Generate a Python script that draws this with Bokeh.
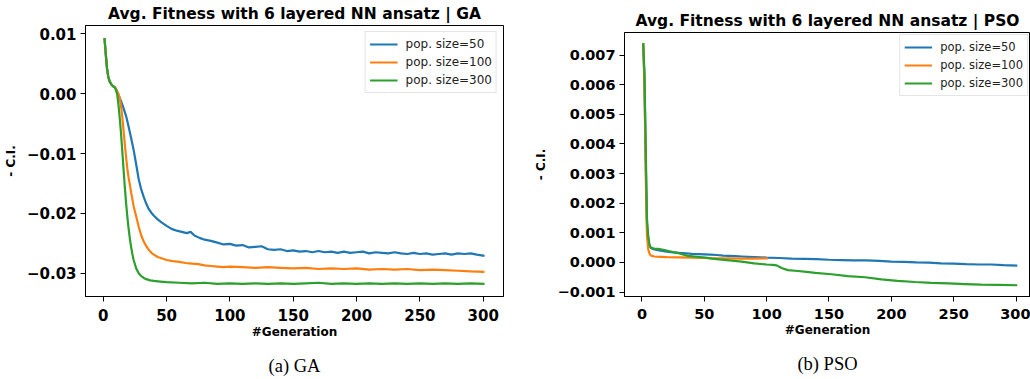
from bokeh.plotting import figure
from bokeh.layouts import row
from bokeh.models import (Range1d, FixedTicker, CustomJSTickFormatter, Legend, LegendItem, LinearAxis, Styles)
from bokeh.embed import file_html
from bokeh.resources import INLINE

# ---------------- data: GA panel ----------------
ga_blue_x = [1, 2, 3, 4, 5, 6, 7, 8, 9, 10, 12, 14, 16, 18, 20, 22, 24, 26, 28, 30, 32, 34, 36, 38, 40, 43, 46,
             50, 54, 58, 62, 66, 69, 72, 76, 80, 85, 90, 95, 100, 105, 110, 115, 120, 125, 130, 135, 140, 145,
             150, 155, 160, 165, 170, 175, 180, 185, 190, 195, 200, 205, 210, 215, 220, 225, 230, 235, 240, 245,
             250, 255, 260, 265, 270, 275, 280, 285, 290, 295, 301]
ga_blue_y = [0.0093, 0.0066, 0.0042, 0.0028, 0.0021, 0.0017, 0.0014, 0.0012, 0.0011, 0.0008, -0.0002, -0.0012,
             -0.0024, -0.0037, -0.0055, -0.0074, -0.0094, -0.0118, -0.0143, -0.0160, -0.0173, -0.0184, -0.0193,
             -0.0199, -0.0204, -0.0210, -0.0215, -0.0221, -0.0226, -0.0229, -0.0231, -0.0233, -0.0231, -0.0237,
             -0.0241, -0.0244, -0.0246, -0.0249, -0.0252, -0.0251, -0.0254, -0.0253, -0.0257, -0.0256, -0.0255,
             -0.0260, -0.0261, -0.0260, -0.0263, -0.0262, -0.0264, -0.0263, -0.0265, -0.0263, -0.0265, -0.0264,
             -0.0266, -0.0264, -0.0266, -0.0265, -0.0264, -0.0267, -0.0265, -0.0266, -0.0267, -0.0265, -0.0267,
             -0.0268, -0.0266, -0.0268, -0.0267, -0.0269, -0.0268, -0.0267, -0.0269, -0.0267, -0.0268, -0.0267,
             -0.0269, -0.0271]

ga_orange_x = [1, 2, 3, 4, 5, 6, 7, 8, 9, 10, 11, 12, 13, 14, 15, 16, 17, 18, 19, 20, 21, 22, 24, 26, 28, 30, 32,
               34, 36, 38, 40, 43, 46, 50, 55, 60, 65, 70, 75, 80, 85, 90, 95, 100, 110, 120, 130, 140, 150, 160,
               170, 180, 190, 200, 210, 220, 230, 240, 250, 260, 270, 280, 290, 301]
ga_orange_y = [0.0093, 0.0066, 0.0042, 0.0028, 0.0021, 0.0017, 0.0014, 0.0012, 0.0011, 0.0008, 0.0004, 0.0000,
               -0.0007, -0.0020, -0.0038, -0.0060, -0.0084, -0.0105, -0.0125, -0.0140, -0.0152, -0.0165, -0.0188,
               -0.0205, -0.0222, -0.0237, -0.0247, -0.0255, -0.0261, -0.0266, -0.0269, -0.0273, -0.0275, -0.0278,
               -0.0280, -0.0281, -0.0283, -0.0284, -0.0285, -0.0287, -0.0288, -0.0289, -0.0290, -0.0289, -0.0290,
               -0.0291, -0.0290, -0.0291, -0.0292, -0.0291, -0.0293, -0.0292, -0.0293, -0.0292, -0.0294, -0.0293,
               -0.0294, -0.0293, -0.0295, -0.0294, -0.0295, -0.0296, -0.0297, -0.0298]

ga_green_x = [1, 2, 3, 4, 5, 6, 7, 8, 9, 10, 11, 12, 13, 14, 15, 16, 17, 18, 19, 20, 21, 22, 23, 24, 26, 28, 30,
              32, 34, 37, 40, 45, 50, 60, 70, 80, 90, 100, 110, 120, 130, 140, 150, 160, 170, 180, 190, 200, 210,
              220, 230, 240, 250, 260, 270, 280, 290, 301]
ga_green_y = [0.0093, 0.0066, 0.0042, 0.0028, 0.0021, 0.0017, 0.0014, 0.0012, 0.0011, 0.0006, -0.0001, -0.0018,
              -0.0040, -0.0065, -0.0095, -0.0125, -0.0155, -0.0182, -0.0205, -0.0225, -0.0242, -0.0256, -0.0268,
              -0.0278, -0.0292, -0.0300, -0.0305, -0.0308, -0.0310, -0.0312, -0.0313, -0.0314, -0.0315, -0.0316,
              -0.0317, -0.0316, -0.0318, -0.0317, -0.0318, -0.0317, -0.0318, -0.0317, -0.0318, -0.0317, -0.0316,
              -0.0318, -0.0317, -0.0318, -0.0317, -0.0318, -0.0317, -0.0318, -0.0317, -0.0318, -0.0317, -0.0318,
              -0.0317, -0.0318]

# ---------------- data: PSO panel ----------------
pso_blue_x = [1, 2, 3, 4, 5, 6, 7, 8, 10, 15, 20, 25, 30, 35, 40, 45, 50, 55, 60, 65, 70, 75, 80, 85, 90, 95, 100,
              110, 120, 130, 140, 150, 160, 170, 180, 190, 200, 210, 220, 230, 240, 250, 260, 270, 280, 290, 301]
pso_blue_y = [0.0074, 0.0062, 0.0035, 0.0013, 0.0008, 0.00058, 0.00050, 0.00047, 0.00044, 0.00040, 0.00036,
              0.00034, 0.00032, 0.00031, 0.00029, 0.00028, 0.00027, 0.00026, 0.00025, 0.00023, 0.00022, 0.00021,
              0.00020, 0.00019, 0.00018, 0.00017, 0.00016, 0.00015, 0.00013, 0.00012, 0.00011, 0.00009, 0.00008,
              0.00007, 0.00007, 0.00005, 0.00003, 0.00002, 0.00000, -0.00001, -0.00003, -0.00004, -0.00006,
              -0.00007, -0.00007, -0.00009, -0.00011]

pso_orange_x = [1, 2, 3, 4, 5, 6, 7, 8, 10, 15, 20, 30, 40, 50, 60, 70, 80, 90, 101]
pso_orange_y = [0.0074, 0.0060, 0.0030, 0.0009, 0.00045, 0.00030, 0.00024, 0.00022, 0.00020, 0.00019, 0.00018,
                0.00017, 0.00016, 0.00015, 0.00014, 0.00014, 0.00013, 0.00013, 0.00014]

pso_green_x = [1, 2, 3, 4, 5, 6, 7, 8, 10, 13, 18, 24, 30, 37, 44, 51, 56, 62, 70, 80, 90, 100, 105, 108, 112,
               117, 125, 132, 139, 152, 165, 179, 192, 205, 219, 232, 246, 259, 272, 286, 301]
pso_green_y = [0.0074, 0.0064, 0.0040, 0.0015, 0.0009, 0.0006, 0.0005, 0.00048, 0.00047, 0.00046, 0.00042,
               0.00036, 0.00030, 0.00022, 0.00019, 0.00016, 0.00013, 0.00010, 0.00007, 0.00003, -0.00003,
               -0.00007, -0.00008, -0.00010, -0.00019, -0.00026, -0.00029, -0.00032, -0.00035, -0.00040,
               -0.00046, -0.00050, -0.00057, -0.00062, -0.00066, -0.00069, -0.00071, -0.00073, -0.00075,
               -0.00076, -0.00077]

series_labels = ["pop. size=50", "pop. size=100", "pop. size=300"]
series_colors = ["#1f77b4", "#ff7f0e", "#2ca02c"]

ga_title = "Avg. Fitness with 6 layered NN ansatz | GA"
pso_title = "Avg. Fitness with 6 layered NN ansatz | PSO"
x_label = "#Generation"
y_label = "- C.I."
ga_caption = "(a) GA"
pso_caption = "(b) PSO"
x_ticks = [0, 50, 100, 150, 200, 250, 300]
ga_y_ticks = [-0.03, -0.02, -0.01, 0.0, 0.01]
pso_y_ticks = [-0.001, 0.0, 0.001, 0.002, 0.003, 0.004, 0.005, 0.006, 0.007]


def text_axis(text, font, size, style, standoff):
    """An axis without line, ticks or tick labels: only its label is shown (used for title / caption)."""
    ax = LinearAxis(ticker=FixedTicker(ticks=[]), axis_line_color=None,
                    major_tick_in=0, major_tick_out=0, minor_tick_in=0, minor_tick_out=0,
                    minor_tick_line_color=None, major_tick_line_color=None,
                    major_label_text_font_size="0px")
    ax.axis_label = text
    ax.axis_label_text_font = font
    ax.axis_label_text_font_size = size
    ax.axis_label_text_font_style = style
    ax.axis_label_text_color = "black"
    ax.axis_label_standoff = standoff
    return ax


def make_panel(width, height, border_l, border_r, border_t, border_b, xr, yr, yticks, ydec, tick_fs,
               xs, ys, title, caption, leg_fs, leg_margin):
    p = figure(width=width, height=height, output_backend="svg", toolbar_location=None,
               x_range=Range1d(*xr), y_range=Range1d(*yr),
               min_border_left=border_l, min_border_right=border_r,
               min_border_top=border_t, min_border_bottom=border_b)
    p.background_fill_color = "white"
    p.border_fill_color = "white"
    p.outline_line_color = "black"
    p.outline_line_width = 1
    p.outline_line_alpha = 1
    p.grid.visible = False

    renderers = []
    for x, y, c in zip(xs, ys, series_colors):
        r = p.line(x, y, line_color=c, line_width=2.2)
        renderers.append(r)

    for ax in (p.xaxis[0], p.yaxis[0]):
        ax.axis_line_color = "black"
        ax.major_tick_in = 0
        ax.major_tick_out = 5
        ax.minor_tick_line_color = None
        ax.major_label_text_font = "DejaVu Sans"
        ax.major_label_text_font_style = "bold"
        ax.major_label_text_font_size = tick_fs
        ax.major_label_text_color = "black"
        ax.axis_label_text_font = "DejaVu Sans"
        ax.axis_label_text_font_style = "bold"
        ax.axis_label_text_font_size = "12px"
        ax.axis_label_text_color = "black"

    p.xaxis.ticker = FixedTicker(ticks=x_ticks)
    p.yaxis.ticker = FixedTicker(ticks=yticks)
    p.yaxis.formatter = CustomJSTickFormatter(
        code="return (tick < -1e-12 ? '\\u2212' : '') + Math.abs(tick).toFixed(%d);" % ydec)
    p.xaxis.axis_label = x_label
    p.yaxis.axis_label = y_label
    p.xaxis.major_label_standoff = 7
    p.xaxis.axis_label_standoff = 1
    p.yaxis.major_label_standoff = 4
    p.yaxis.axis_label_standoff = 6

    legend = Legend(items=[LegendItem(label=l, renderers=[r]) for l, r in zip(series_labels, renderers)],
                    location="top_right")
    legend.label_text_font = "DejaVu Sans"
    legend.label_text_font_size = leg_fs
    legend.label_text_color = "#222222"
    legend.glyph_width = 28
    legend.glyph_height = 16
    legend.label_height = 16
    legend.spacing = 2
    legend.padding = 4
    legend.margin = leg_margin
    legend.label_standoff = 8
    legend.border_line_color = "#cccccc"
    legend.border_line_width = 1
    legend.background_fill_alpha = 0.8
    p.add_layout(legend, "center")

    # title (above the frame) and sub-figure caption (below the x axis)
    p.add_layout(text_axis(title, "DejaVu Sans", "15.5px", "bold", 3), "above")
    p.add_layout(text_axis(caption, "Liberation Serif", "18.5px", "normal", 14), "below")
    return p


p1 = make_panel(515, 379, 85, 12, 25, 83, (-14, 316), (-0.0339, 0.0114), ga_y_ticks, 2, "15px",
                [ga_blue_x, ga_orange_x, ga_green_x], [ga_blue_y, ga_orange_y, ga_green_y],
                ga_title, ga_caption, "12px", 6)
p2 = make_panel(515, 372, 109, 0, 25, 83, (-14, 311.6), (-0.00115, 0.00776), pso_y_ticks, 3, "14.5px",
                [pso_blue_x, pso_orange_x, pso_green_x], [pso_blue_y, pso_orange_y, pso_green_y],
                pso_title, pso_caption, "11.5px", 2)
# the PSO panel sits slightly lower in the reference figure
p2.styles = Styles(margin_top="7px")

layout = row(p1, p2)
open("out.html", "w").write(file_html(layout, INLINE))
